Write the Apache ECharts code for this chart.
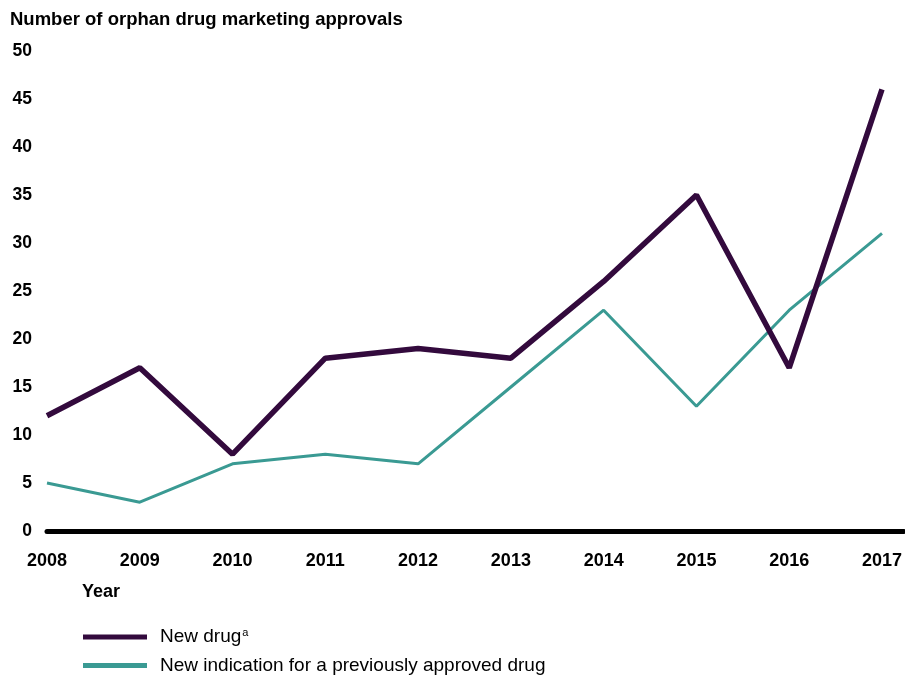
<!DOCTYPE html>
<html>
<head>
<meta charset="utf-8">
<script src="https://cdn.jsdelivr.net/npm/echarts@6/dist/echarts.min.js"></script>
<style>html,body{margin:0;padding:0;background:#fff}#c{width:905px;height:675px}</style>
</head>
<body>
<div id="c"></div>
<script>
const years = [2008, 2009, 2010, 2011, 2012, 2013, 2014, 2015, 2016, 2017];
const newDrug = [12, 17, 8, 18, 19, 18, 26, 35, 17, 46];
const newIndication = [5, 3, 7, 8, 7, 15, 23, 13, 23, 31];
const yTicks = [0, 5, 10, 15, 20, 25, 30, 35, 40, 45, 50];
const seriesNames = ['New drug', 'New indication for a previously approved drug'];

const font = 'Liberation Sans, Arial, sans-serif';
const legendText = {
  fontFamily: font, fontSize: 19, color: '#000', padding: [0, 0, 0, 8],
  rich: {
    n: {fontFamily: font, fontSize: 19, color: '#000'},
    s: {fontFamily: font, fontSize: 11, color: '#000', verticalAlign: 'top', padding: [0, 0, 9, 1]}
  }
};
const legendFmt = name => name === seriesNames[0] ? '{n|New drug}{s|a}' : '{n|' + name + '}';

const chart = echarts.init(document.getElementById('c'), null, {renderer: 'canvas'});
chart.setOption({
  animation: false,
  backgroundColor: '#fff',
  title: {
    text: 'Number of orphan drug marketing approvals',
    left: 5, top: 5,
    textStyle: {fontFamily: font, fontWeight: 'bold', fontSize: 18.5, color: '#000'}
  },
  grid: {left: 47, right: 0, top: 51, bottom: 144, containLabel: false},
  xAxis: {
    type: 'value',
    min: 2008, max: 2017.237,
    name: 'Year', nameLocation: 'start',
    nameGap: 0,
    nameTextStyle: {fontFamily: font, fontWeight: 'bold', fontSize: 18, color: '#000',
      align: 'left', verticalAlign: 'top', padding: [52, 0, 0, 35]},
    axisLine: {show: true, lineStyle: {color: '#000', width: 5}},
    axisTick: {show: false},
    splitLine: {show: false},
    axisLabel: {
      customValues: years,
      margin: 21,
      fontFamily: font, fontWeight: 'bold', fontSize: 18, color: '#000',
      formatter: v => String(v)
    }
  },
  yAxis: {
    type: 'value',
    min: 0, max: 50, interval: 5,
    axisLine: {show: false},
    axisTick: {show: false},
    splitLine: {show: false},
    axisLabel: {
      customValues: yTicks,
      margin: 15,
      fontFamily: font, fontWeight: 'bold', fontSize: 17.5, color: '#000'
    }
  },
  legend: [
    {
      orient: 'vertical', left: 78, top: 622,
      itemWidth: 64, itemHeight: 5, icon: 'rect',
      textStyle: legendText, formatter: legendFmt,
      data: [seriesNames[0]]
    },
    {
      orient: 'vertical', left: 78, top: 651,
      itemWidth: 64, itemHeight: 5, icon: 'rect',
      textStyle: legendText, formatter: legendFmt,
      data: [seriesNames[1]]
    }
  ],
  series: [
    {
      name: seriesNames[0], type: 'line',
      data: years.map((y, i) => [y, newDrug[i]]),
      symbol: 'none', color: '#330a3d',
      lineStyle: {width: 5.5, color: '#330a3d'}, z: 3
    },
    {
      name: seriesNames[1], type: 'line',
      data: years.map((y, i) => [y, newIndication[i]]),
      symbol: 'none', color: '#3a9a93',
      lineStyle: {width: 3, color: '#3a9a93'}, z: 2
    }
  ]
});
</script>
</body>
</html>
